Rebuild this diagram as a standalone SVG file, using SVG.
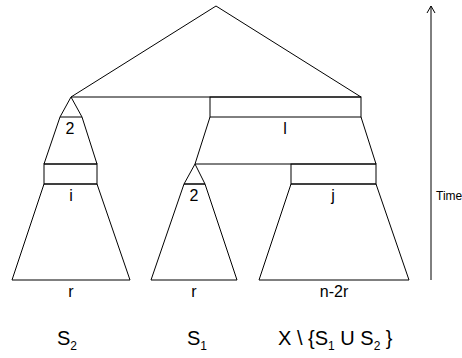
<svg xmlns="http://www.w3.org/2000/svg" width="462" height="358" viewBox="0 0 462 358">
<style>
.s{fill:none;stroke:#000;stroke-width:1;stroke-linejoin:miter}
.t{font-family:"Liberation Sans",Arial,sans-serif;font-size:16px;fill:#000;text-anchor:middle}
.b{font-family:"Liberation Sans",Arial,sans-serif;font-size:20px;fill:#000}
.sub{font-size:12px}
.tm{font-family:"Liberation Sans",Arial,sans-serif;font-size:12px;fill:#000}
</style>
<g id="connectors">
<line class="s" x1="431" y1="280" x2="431" y2="6"/>
<polyline class="s" points="427,13 431,6 435,13"/>
</g>
<g id="root">
<polygon class="s" points="216,6 361,97 71,97"/>
</g>
<g id="boxL">
<rect class="s" x="210" y="97" width="151" height="20"/>
<polyline class="s" points="210,117 195,164 376,164 361,117"/>
<text class="t" x="285" y="134">l</text>
</g>
<g id="S2tree">
<polygon class="s" points="71,97 82,117 60,117"/>
<polyline class="s" points="60,117 44,164 97,164 82,117"/>
<text class="t" x="70" y="134">2</text>
<rect class="s" x="44" y="164" width="53" height="20"/>
<polygon class="s" points="44,184 97,184 130,280 12,280"/>
<text class="t" x="71" y="201">i</text>
<text class="t" x="71" y="297">r</text>
</g>
<g id="S1tree">
<polygon class="s" points="195,164 205,184 184,184"/>
<polygon class="s" points="184,184 205,184 237,280 151,280"/>
<text class="t" x="194" y="201">2</text>
<text class="t" x="194" y="297">r</text>
</g>
<g id="Xtree">
<rect class="s" x="291" y="164" width="85" height="20"/>
<polygon class="s" points="291,184 376,184 409,280 259,280"/>
<text class="t" x="333" y="201">j</text>
<text class="t" x="334" y="297">n-2r</text>
</g>
<g id="labels">
<text class="b" x="57" y="345">S<tspan class="sub" dy="5">2</tspan></text>
<text class="b" x="187" y="345">S<tspan class="sub" dy="5">1</tspan></text>
<text class="b" x="278" y="345">X \ {S<tspan class="sub" dy="5">1</tspan><tspan dy="-5"> U S</tspan><tspan class="sub" dy="5">2</tspan><tspan dy="-5"> }</tspan></text>
<text class="tm" x="436" y="200">Time</text>
</g>
</svg>
